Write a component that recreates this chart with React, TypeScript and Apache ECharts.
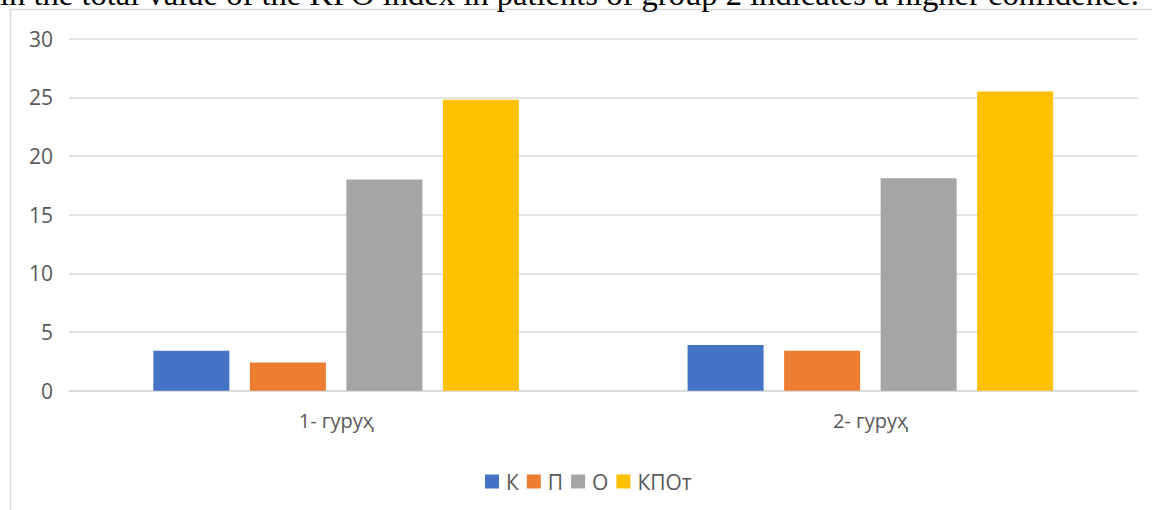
import React, { useEffect, useRef } from "react";
import * as echarts from "echarts";

const categories = ["1- гуруҳ", "2- гуруҳ"];
const seriesNames = ["К", "П", "О", "КПОт"];
const valuesK = [3.4, 3.9];
const valuesP = [2.4, 3.4];
const valuesO = [18.0, 18.1];
const valuesKPOt = [24.8, 25.5];
const colors = ["#4472C4", "#ED7D31", "#A5A5A5", "#FFC000"];
const topText = "in the total value of the KPO index in patients of group 2 indicates a higher confidence.";

export default function App() {
  const ref = useRef<HTMLDivElement>(null);
  useEffect(() => {
    if (!ref.current) return;
    const chart = echarts.init(ref.current, undefined, { renderer: "svg" });
    const font = "'Open Sans', 'Noto Sans', sans-serif";
    const data = [valuesK, valuesP, valuesO, valuesKPOt];
    chart.setOption({
      animation: false,
      backgroundColor: "#ffffff",
      textStyle: { fontFamily: font },
      graphic: [
        {
          type: "rect",
          shape: { x: 10.5, y: 9.5, width: 1300, height: 700 },
          style: { fill: "#ffffff", stroke: "#d9d9d9", lineWidth: 1.5 },
          z: -10,
          silent: true,
        },
        {
          type: "text",
          x: 0,
          y: 10,
          style: {
            text: topText,
            fontSize: 32.6,
            fontFamily: "'Liberation Serif', serif",
            fill: "#000000",
            verticalAlign: "bottom",
          },
          z: 10,
        },
      ],
      grid: { left: 69, right: 14.5, top: 38.7, bottom: 119.3 },
      legend: {
        data: seriesNames,
        left: 480,
        top: 466,
        itemWidth: 14,
        itemHeight: 14,
        itemGap: 8,
        icon: "rect",
        textStyle: { color: "#595959", fontSize: 21, fontFamily: font, padding: [0, 0, 0, 2] },
      },
      xAxis: {
        type: "category",
        data: categories,
        axisLine: { lineStyle: { color: "#d9d9d9", width: 1.5 } },
        axisTick: { show: false },
        axisLabel: { color: "#595959", fontSize: 20, margin: 20, fontFamily: font },
      },
      yAxis: {
        type: "value",
        min: 0,
        max: 30,
        interval: 5,
        axisLine: { show: false },
        axisTick: { show: false },
        splitLine: { lineStyle: { color: "#d9d9d9", width: 1.5 } },
        axisLabel: { color: "#595959", fontSize: 21, margin: 16, fontFamily: font },
      },
      series: seriesNames.map((name, i) => ({
        name,
        type: "bar",
        data: data[i],
        barWidth: 76,
        barGap: "27%",
        itemStyle: { color: colors[i] },
      })),
    });
    return () => chart.dispose();
  }, []);
  return (
    <div
      ref={ref}
      style={{ position: "fixed", left: 0, top: 0, width: 1152, height: 510 }}
    />
  );
}
